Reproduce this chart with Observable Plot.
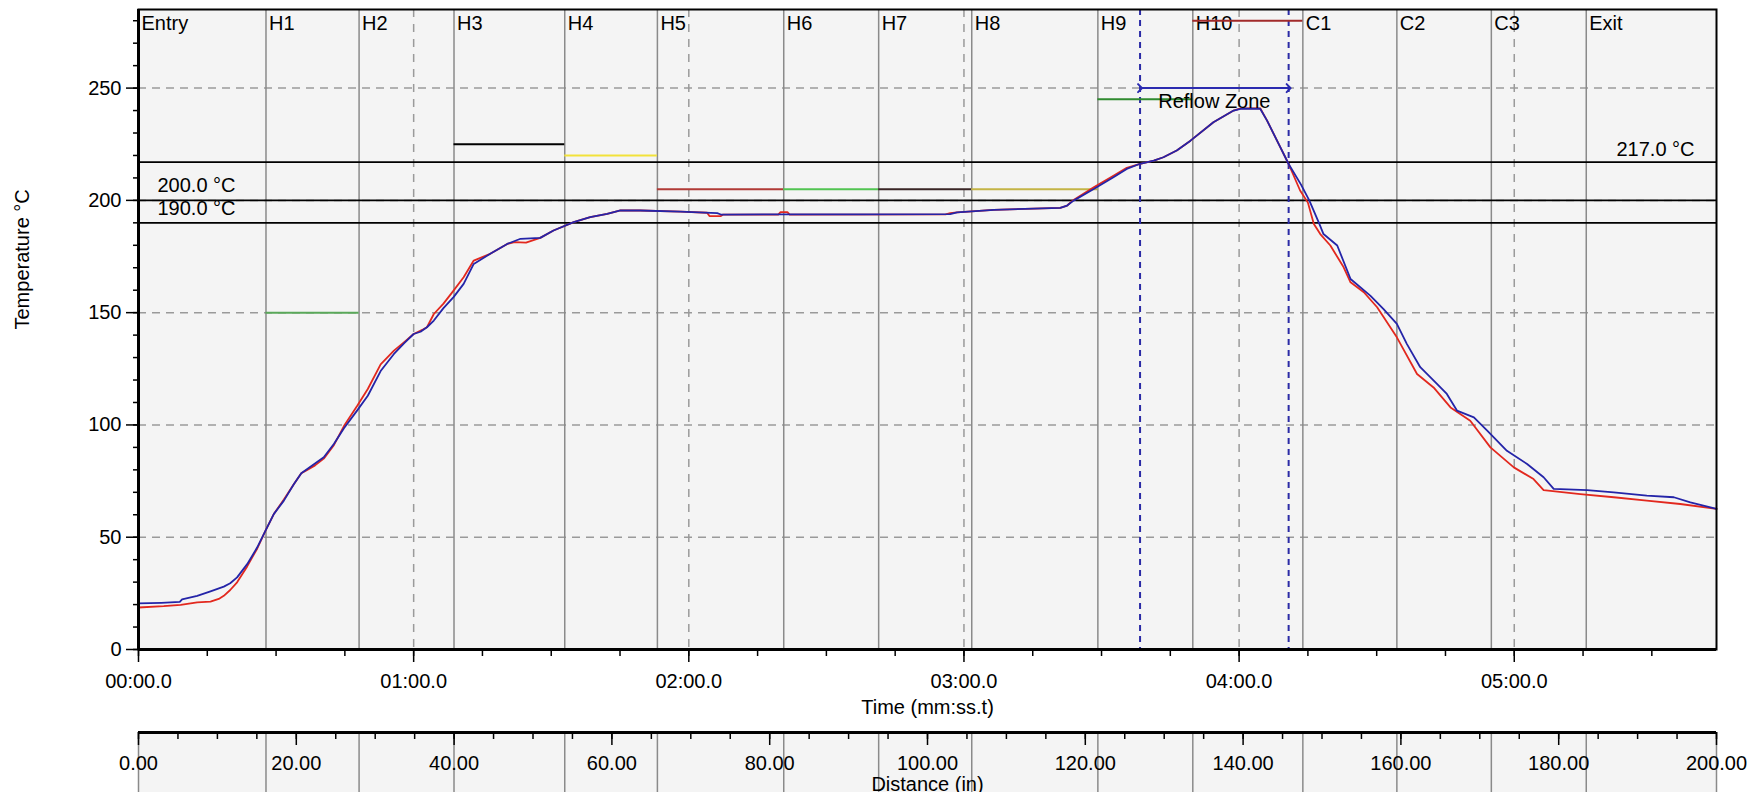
<!DOCTYPE html>
<html>
<head>
<meta charset="utf-8">
<script src="https://cdn.jsdelivr.net/npm/d3@7"></script>
<script src="https://cdn.jsdelivr.net/npm/@observablehq/plot@0.6"></script>
<style>
  body { margin: 0; background: #ffffff; }
  #chart svg { display: block; }
</style>
</head>
<body>
<div id="chart"></div>
<script>
// ---------- data ----------
const zoneNames = ["Entry","H1","H2","H3","H4","H5","H6","H7","H8","H9","H10","C1","C2","C3","Exit"];
const zoneStarts = [0, 27.8, 48.1, 68.8, 92.95, 113.15, 140.7, 161.4, 181.7, 209.2, 229.9, 253.9, 274.4, 295.0, 315.7];
const timeEnd = 344.1;     // seconds at right edge
const distEnd = 200;       // inches at right edge
const tempMax = 285;

const setpointZones  = ["H1","H3","H4","H5","H6","H7","H8","H9","H10"];
const setpointTemps  = [150, 225, 220, 205, 205, 205, 205, 245, 280];
const setpointColors = ["#5aa85a","#000000","#f2e23a","#b03a36","#52c452","#3a2626","#c4b446","#2f8a2f","#a22a2a"];

const limitTemps  = [217, 200, 190];
const limitLabels = ["217.0 °C", "200.0 °C", "190.0 °C"];
const limitSides  = ["right", "left", "left"];

const reflowZone = [218.4, 250.8];
const reflowLabel = "Reflow Zone";
const reflowArrowTemp = 250;

const yTicks = [0, 50, 100, 150, 200, 250];
const yGrid = [50, 100, 150, 200, 250];
const yMinorTicks = [0,10,20,30,40,50,60,70,80,90,100,110,120,130,140,150,160,170,180,190,200,210,220,230,240,250,260,270,280];
const timeTicks = [0, 60, 120, 180, 240, 300];
const timeMinorTicks = [0,15,30,45,60,75,90,105,120,135,150,165,180,195,210,225,240,255,270,285,300,315,330];
const distTicks = [0, 20, 40, 60, 80, 100, 120, 140, 160, 180, 200];
const distMinorTicks = [0,5,10,15,20,25,30,35,40,45,50,55,60,65,70,75,80,85,90,95,100,105,110,115,120,125,130,135,140,145,150,155,160,165,170,175,180,185,190,195,200];

const blueTime = [0,5,9,9.5,12.8,15.7,18.6,20,21.5,23.7,25.9,27.7,29.5,31.7,33.9,35.5,36.8,40.4,42.6,44.8,47.7,50,52.8,55.7,58,60,61.5,62.9,64.4,66.5,68.7,70.9,73.1,76.7,80.4,83.3,87.6,90.5,94.9,98.5,102.2,105.1,109.4,118.2,126.2,127,157.4,177,178.5,186.5,201,202.5,203.9,208.3,212.6,215.5,218.4,221.4,223.5,226.4,229.4,234.4,238.8,240.3,244.6,246.1,249,250.8,253.5,255.3,257.5,258.4,261.4,264.3,268.6,271.5,274.4,276.6,279.5,283.2,285.3,287.5,291.2,294.1,298.4,302.8,306.4,308.6,315.9,321.7,328.9,334.8,338.4,344.1];
const blueTemp = [20.5,20.8,21.2,22.3,23.9,25.9,28,29.5,32.1,38,45.5,52.9,60.3,66.3,73.7,78.5,80.4,85.6,91.5,98.5,106.5,113,124,131.6,136.5,140.5,141.5,143.5,146.5,152,156.9,162.8,171.7,176.2,180.6,182.9,183.3,186.6,190.3,192.5,194,195.5,195.5,195,194.3,193.7,193.8,193.9,194.7,195.8,196.7,197.7,199.9,205.1,210.3,214,216.3,217.7,219.2,222.2,226.6,234.8,240,240.8,240.8,235.5,223.6,216.2,207,200,189.5,185,179.9,165,157.6,151.6,145,136,125.7,118.2,113.8,106.4,103.4,97.5,88.5,82.6,76.7,71.5,71,70,68.5,67.8,65.5,62.6];

const redTime = [0,5.5,9.2,12.8,15.7,17.5,18.6,20,21.5,23.7,25.9,27.7,29.5,31.7,33.9,35.5,36.8,38.5,40.4,42.6,44.8,47.7,50,52.8,55.7,58,60,62,62.9,64.4,66.5,68.7,70.9,73.1,76.7,80.4,82,84.5,87.6,90.5,94.9,98.5,102.2,105.1,109.4,118.2,124,124.5,127,127.5,139.5,140,141.5,142,176,177,178.5,186.5,201,202.5,203.9,208.3,212.6,215.5,218.4,221.4,223.5,226.4,229.4,234.4,238.8,240.3,244.6,246.1,249,250.8,253.3,255,256.3,257.7,259.9,262.8,264.3,267.2,270.1,274.4,278.8,282.4,286.1,290.4,294.8,299.9,304.2,306.4,314.4,321.7,328.9,336.2,344.1];
const redTemp = [18.7,19.3,19.9,21,21.3,22.5,23.9,26.5,29.9,37,45,52.9,60.3,66.8,73.7,78.5,80,82,85,91,99.5,108.5,116,127,133.1,137,140.5,142.5,143.5,149.4,154,159.8,165.8,173.2,176.2,180.6,181.4,181.2,183.3,186.6,190.3,192.5,194,195.5,195.5,195,194.5,193,193,193.7,193.7,194.8,194.8,193.7,193.8,194.3,194.7,195.8,196.7,197.7,200.2,205.8,211,214.5,216.3,217.7,219.2,222.2,226.6,234.8,240,241,241,235.5,223.6,216.2,204.4,199,189.5,185,179.9,170.2,163.5,159.1,152.4,139,122.7,116.7,107.8,101.9,90,81.1,75.9,71,69.2,67.8,66.3,64.8,62.6];

// ---------- tables built from the arrays ----------
const zones = zoneNames.map((name, i) => ({name, start: zoneStarts[i]}));
const setpoints = setpointZones.map((z, i) => {
  const k = zoneNames.indexOf(z);
  return {zone: z, temp: setpointTemps[i], color: setpointColors[i], start: zoneStarts[k], end: zoneStarts[k + 1]};
});
const limits = limitTemps.map((t, i) => ({temp: t, label: limitLabels[i], side: limitSides[i]}));
const blueData = blueTime.map((t, i) => ({t, T: blueTemp[i]}));
const redData = redTime.map((t, i) => ({t, T: redTemp[i]}));
const zoneDist = zoneStarts.map(t => t * distEnd / timeEnd);

const fmtTime = s => {
  const m = Math.floor(s / 60), sec = s - m * 60;
  return String(m).padStart(2, "0") + ":" + sec.toFixed(1).padStart(4, "0");
};

const W = 1760;
const font = "'Liberation Sans', Arial, sans-serif";
const style = {fontFamily: font, fontSize: "20px", background: "white", color: "black", overflow: "visible"};
const gridGray = "#9a9a9a";
const zoneGray = "#8a8a8a";
const panelFill = "#f4f4f4";

const main = Plot.plot({
  width: W, height: 729,
  marginTop: 9, marginBottom: 80, marginLeft: 138, marginRight: 44,
  style,
  x: {domain: [0, timeEnd], axis: null, label: null},
  y: {domain: [0, tempMax], axis: null, label: null},
  marks: [
    Plot.frame({fill: panelFill, stroke: "none"}),
    Plot.ruleY(yGrid, {stroke: gridGray, strokeWidth: 1.5, strokeDasharray: "8,6"}),
    Plot.ruleX(timeTicks.slice(1), {stroke: gridGray, strokeWidth: 1.5, strokeDasharray: "8,7"}),
    Plot.ruleX(zoneStarts.slice(1), {stroke: zoneGray, strokeWidth: 1.5}),
    Plot.ruleY(limitTemps, {stroke: "black", strokeWidth: 1.8}),
    Plot.ruleX(reflowZone, {stroke: "#2b2ba6", strokeWidth: 2, strokeDasharray: "6,5"}),
    Plot.text(zones, {x: "start", text: "name", frameAnchor: "top", lineAnchor: "top", textAnchor: "start", dx: 3, dy: 6}),
    Plot.ruleY(setpoints, {y: "temp", x1: "start", x2: "end", stroke: d => d.color, strokeWidth: 2}),
    Plot.text(limits.filter(d => d.side === "left"), {y: "temp", text: "label", frameAnchor: "left", textAnchor: "start", lineAnchor: "bottom", dx: 19, dy: -8}),
    Plot.text(limits.filter(d => d.side === "right"), {y: "temp", text: "label", frameAnchor: "right", textAnchor: "end", lineAnchor: "bottom", dx: -22, dy: -6}),
    Plot.line(redData, {x: "t", y: "T", stroke: "#e2281e", strokeWidth: 1.8}),
    Plot.line(blueData, {x: "t", y: "T", stroke: "#2424a8", strokeWidth: 1.8}),
    Plot.link([reflowZone], {x1: d => d[0], x2: d => d[1], y1: () => reflowArrowTemp, y2: () => reflowArrowTemp,
      stroke: "#2b2bb0", strokeWidth: 2, markerStart: "arrow", markerEnd: "arrow"}),
    Plot.text([reflowLabel], {x: () => d3.mean(reflowZone), y: () => reflowArrowTemp, text: d => d, lineAnchor: "top", dy: 6}),
    Plot.text(["Temperature °C"], {frameAnchor: "left", dx: -116, rotate: -90, text: d => d}),
    Plot.text(["Time (mm:ss.t)"], {frameAnchor: "bottom", lineAnchor: "bottom", dy: 64, text: d => d}),
    Plot.axisY(yTicks, {tickSize: 12, tickPadding: 5, strokeWidth: 1.5, label: null}),
    Plot.axisY(yMinorTicks, {tickSize: 5, strokeWidth: 1.5, tickFormat: () => "", label: null}),
    Plot.axisX(timeTicks, {tickSize: 13, tickPadding: 11, strokeWidth: 1.5, tickFormat: fmtTime, label: null}),
    Plot.axisX(timeMinorTicks, {tickSize: 7, strokeWidth: 1.5, tickFormat: () => "", label: null}),
    Plot.frame({stroke: "black", strokeWidth: 2}),
    Plot.ruleX([0], {stroke: "black", strokeWidth: 3}),
    Plot.ruleY([0], {stroke: "black", strokeWidth: 3})
  ]
});

const dist = Plot.plot({
  width: W, height: 63,
  marginTop: 3, marginBottom: 0, marginLeft: 138, marginRight: 44,
  style,
  x: {domain: [0, distEnd], axis: null, label: null},
  y: {domain: [0, 1], axis: null, label: null},
  marks: [
    Plot.frame({fill: panelFill, stroke: "none"}),
    Plot.ruleX(zoneDist.concat([distEnd]), {stroke: zoneGray, strokeWidth: 1.5}),
    Plot.ruleX(distMinorTicks, {stroke: "black", strokeWidth: 1.5, insetBottom: 53}),
    Plot.ruleX(distTicks, {stroke: "black", strokeWidth: 1.5, insetBottom: 47}),
    Plot.text(distTicks, {x: d => d, text: d => d.toFixed(2), frameAnchor: "top", lineAnchor: "bottom", dy: 37}),
    Plot.text(["Distance (in)"], {frameAnchor: "top", lineAnchor: "bottom", dy: 58, text: d => d}),
    Plot.ruleY([1], {stroke: "black", strokeWidth: 3})
  ]
});

const root = document.getElementById("chart");
root.appendChild(main);
root.appendChild(dist);
</script>
</body>
</html>
